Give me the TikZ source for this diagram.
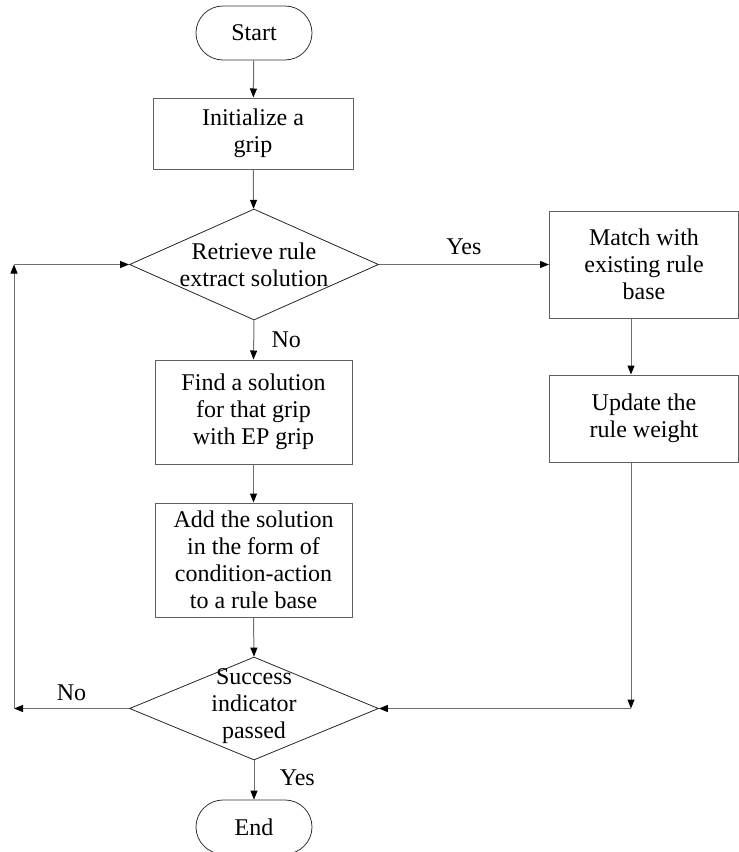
\documentclass[tikz,border=0pt]{standalone}
\usepackage{fontspec}
\setmainfont{Liberation Serif}
\usepackage{tikz}
\usetikzlibrary{arrows.meta,positioning,shapes.geometric,shapes.misc}
\definecolor{boxgray}{RGB}{95,95,95}
\definecolor{linegray}{RGB}{110,110,110}

\begin{document}
\begin{tikzpicture}[x=1pt, y=-1pt,
    every node/.style={font=\fontsize{24}{27}\selectfont},
    terminal/.style={rounded rectangle, draw=black!80, line width=0.8pt, minimum width=116pt, minimum height=54pt, inner sep=0pt},
    process/.style={rectangle, draw=boxgray, line width=1pt, align=center, inner sep=0pt},
    decision/.style={diamond, draw=black!85, line width=0.8pt, inner sep=0pt, minimum width=249pt, minimum height=111pt},
    txt/.style={align=center, inner sep=0pt},
    flow/.style={draw=linegray, line width=1pt, -{Triangle[length=9pt, width=7pt, color=black]}},
    link/.style={draw=linegray, line width=1pt}]
    % Page frame (reference size in px)
    \useasboundingbox (0,0) rectangle (739,852);
    % Main column
    \node[terminal] (start) at (254,33) {Start};
    \node[process, minimum width=200pt, minimum height=71pt] (init) at (253,133.5) {Initialize a\\grip};
    \node[decision] (retr) at (254,264.5) {};
    \node[txt] (retrtxt) at (retr) {Retrieve rule\\extract solution};
    \node[process, minimum width=197pt, minimum height=104pt] (find) at (253.5,412) {Find a solution\\for that grip\\with EP grip};
    \node[process, minimum width=197pt, minimum height=114pt] (add) at (253.5,560) {Add the solution\\in the form of\\condition-action\\to a rule base};
    \node[decision, minimum height=103pt] (succ) at (254,708.5) {};
    \node[txt] (succtxt) at (254,706) {Success\\indicator\\passed};
    \node[terminal] (stop) at (254,827) {End};
    % Right column
    \node[process, minimum width=189pt, minimum height=107pt] (match) at (644,264.5) {Match with\\existing rule\\base};
    \node[process, minimum width=189pt, minimum height=87pt] (update) at (644,418.5) {Update the\\rule weight};
    % Helper coordinates for the side lines
    \coordinate (rcol) at (631,0);
    \coordinate (lcol) at (14,0);
    \coordinate (rturn) at (succ.east -| rcol);
    \coordinate (lturn) at (succ.west -| lcol);
    \coordinate (ltop) at (retr.west -| lcol);
    % Connectors
    \draw[flow] (start) -- (init);
    \draw[flow] (init) -- (retr);
    \draw[flow] (retr.east) -- (match.west) node[pos=0.5, above=6pt] (yes1) {Yes};
    \draw[flow] (retr.south) -- (find.north) node[pos=0.5, right=14pt] (no1) {No};
    \draw[flow] (find) -- (add);
    \draw[flow] (add.south) -- (succ.north);
    \draw[flow] (match.south -| rcol) -- (update.north -| rcol);
    \draw[flow] (update.south -| rcol) -- (rturn);
    \draw[flow] (rturn) -- (succ.east);
    \draw[flow] (succ.west) -- (lturn) node[pos=0.5, above=4pt] (no2) {No};
    \draw[flow] (lturn) -- (ltop);
    \draw[flow] (ltop) -- (retr.west);
    \draw[flow] (succ.south) -- (stop.north) node[pos=0.45, right=22pt] (yes2) {Yes};
\end{tikzpicture}
\end{document}
